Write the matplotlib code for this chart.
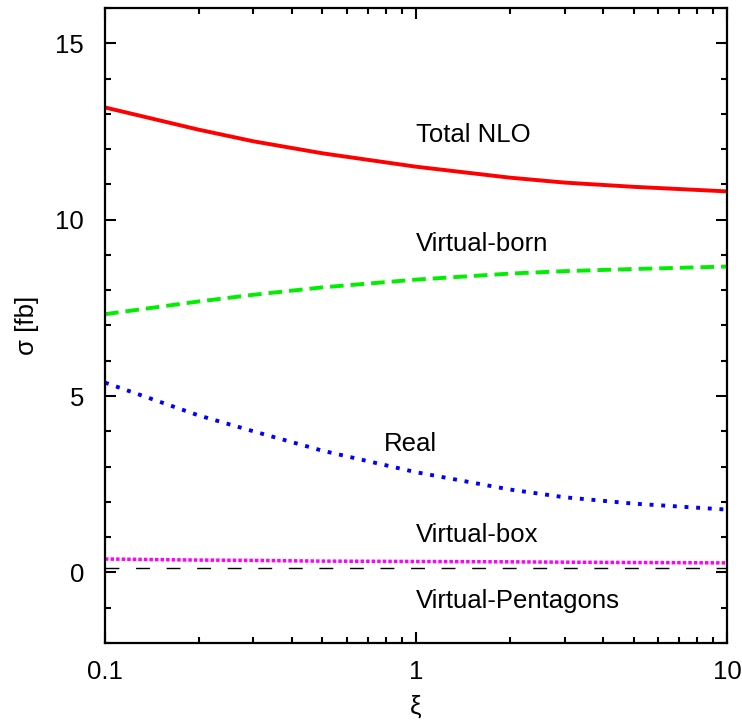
import matplotlib
matplotlib.use("Agg")
import matplotlib.pyplot as plt
from matplotlib.ticker import FixedLocator, MultipleLocator, NullFormatter

plt.rcParams['font.family'] = ['Liberation Sans', 'DejaVu Sans']

xi = [0.1, 0.2, 0.3, 0.5, 1, 2, 3, 5, 10]
total_nlo = [13.18, 12.55, 12.22, 11.88, 11.5, 11.19, 11.05, 10.93, 10.8]
virtual_born = [7.32, 7.68, 7.87, 8.08, 8.3, 8.47, 8.54, 8.6, 8.67]
real = [5.38, 4.45, 4.0, 3.45, 2.84, 2.35, 2.13, 1.95, 1.78]
virtual_box = [0.38, 0.35, 0.34, 0.32, 0.31, 0.3, 0.29, 0.28, 0.27]
virtual_pent = [0.12, 0.12, 0.12, 0.12, 0.12, 0.12, 0.12, 0.12, 0.12]

labels = ["Total NLO", "Virtual-born", "Real", "Virtual-box", "Virtual-Pentagons"]
label_x = [1.0, 1.0, 0.79, 1.0, 1.0]
label_y = [12.4, 9.3, 3.65, 1.05, -0.8]

fig = plt.figure(figsize=(7.42, 7.23), dpi=100)
ax = fig.add_axes([0.1415, 0.1107, 0.8385, 0.8783])

ax.plot(xi, virtual_pent, color='black', lw=1.0, dashes=(10, 12))
ax.plot(xi, virtual_box, color='#ff00ff', lw=2.5, dashes=(1.0, 0.6))
ax.plot(xi, real, color='#0000ff', lw=2.8, dashes=(1.0, 2.0))
ax.plot(xi, virtual_born, color='#00ee00', lw=2.8, dashes=(3.5, 1.8))
ax.plot(xi, total_nlo, color='#ff0000', lw=2.8)

for t, x, y in zip(labels, label_x, label_y):
    ax.text(x, y, t, fontsize=18.5, ha='left', va='center')

ax.set_xscale('log')
ax.set_xlim(0.1, 10)
ax.set_ylim(-2, 16)
ax.set_xticks([0.1, 1, 10])
ax.set_xticklabels(['0.1', '1', '10'])
ax.xaxis.set_minor_locator(FixedLocator([k * 10.0 ** e for e in (-1, 0) for k in range(2, 10)]))
ax.xaxis.set_minor_formatter(NullFormatter())
ax.set_yticks([0, 5, 10, 15])
ax.yaxis.set_minor_locator(MultipleLocator(1))

ax.tick_params(which='both', direction='in', top=True, right=True, labelsize=18.5, width=1.5)
ax.tick_params(axis='y', which='major', length=8, pad=15)
ax.tick_params(axis='x', which='major', length=8, pad=12)
ax.tick_params(which='minor', length=4.5)
for s in ax.spines.values():
    s.set_linewidth(1.6)

ax.set_xlabel('ξ', fontsize=18.5, labelpad=8)
ax.set_ylabel('σ [fb]', fontsize=18.5, labelpad=12)

fig.savefig('out.png', dpi=100)
